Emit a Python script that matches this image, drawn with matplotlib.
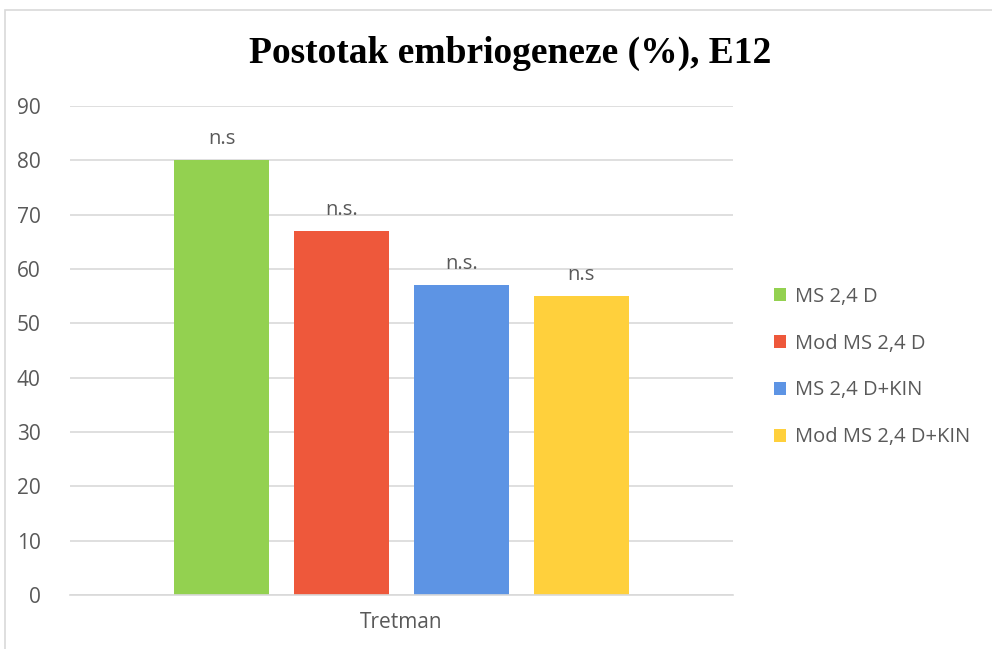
import matplotlib.pyplot as plt
import numpy as np
from matplotlib.patches import Rectangle

# data
series = ['MS 2,4 D', 'Mod MS 2,4 D', 'MS 2,4 D+KIN', 'Mod MS 2,4 D+KIN']
values = [80, 67, 57, 55]
labels = ['n.s', 'n.s.', 'n.s.', 'n.s']
category = 'Tretman'
colors = ['#93D150', '#EE583B', '#5D94E4', '#FFD03C']

W, H = 992, 649
fig = plt.figure(figsize=(W / 100, H / 100), dpi=100)

# light chart border (left and top visible)
fig.patches.append(Rectangle((5 / W, -0.01), 1.1, (H - 10) / H + 0.01,
                             transform=fig.transFigure, fill=False,
                             edgecolor='#d9d9d9', linewidth=1.2))

ax = fig.add_axes([70 / W, (H - 595) / H, (733 - 70) / W, (595 - 106) / H])

width = 1.0
step = 1.26
offsets = (np.arange(len(series)) - (len(series) - 1) / 2) * step

tick_col = '#595959'
for off, val, lab, col, name in zip(offsets, values, labels, colors, series):
    ax.bar(off, val, width=width, color=col, label=name, zorder=2)
    ax.text(off, val + 2.0, lab, ha='center', va='bottom', fontsize=14.5,
            color=tick_col, family='Open Sans')

ax.set_xlim(-3.49, 3.49)
ax.set_ylim(0, 90)
ax.set_yticks(np.arange(0, 91, 10))
ax.set_xticks([0])
ax.set_xticklabels([category])
ax.grid(axis='y', color='#d9d9d9', linewidth=1.2, zorder=0)
ax.set_axisbelow(True)
for s in ['top', 'right', 'left']:
    ax.spines[s].set_visible(False)
ax.spines['bottom'].set_color('#d9d9d9')
ax.spines['bottom'].set_linewidth(1.2)
ax.tick_params(axis='both', length=0, colors=tick_col, labelsize=15)
ax.tick_params(axis='y', pad=21)
ax.tick_params(axis='x', pad=12)
for t in ax.get_xticklabels() + ax.get_yticklabels():
    t.set_family('Open Sans')

fig.text(510 / W, 1 - 53 / H, 'Postotak embriogeneze (%), E12', ha='center',
         va='center', fontsize=27, fontweight='bold', family='Liberation Serif')

leg = fig.legend(loc='center left', bbox_to_anchor=(756 / W, 1 - 367 / H),
                 frameon=False, handlelength=0.6, handleheight=0.6,
                 handletextpad=0.42, labelspacing=1.34,
                 prop={'family': 'Open Sans', 'size': 14.5})
for t in leg.get_texts():
    t.set_color(tick_col)

fig.savefig('out.png', dpi=100)
